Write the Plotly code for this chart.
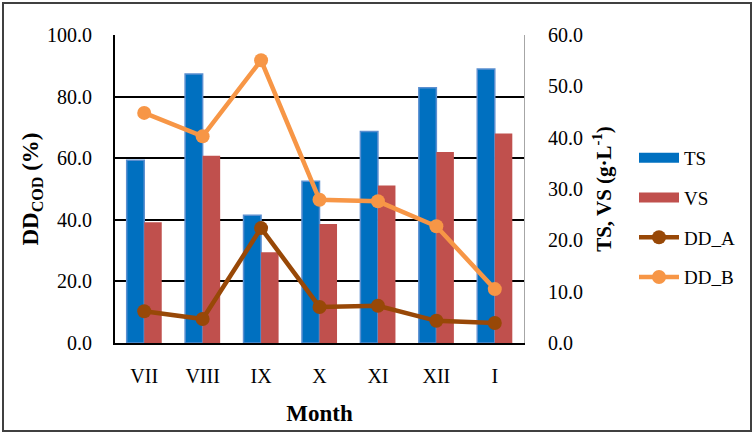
import plotly.graph_objects as go

months = ["VII", "VIII", "IX", "X", "XI", "XII", "I"]
ts = [35.6, 52.4, 24.9, 31.5, 41.2, 49.7, 53.4]
vs = [23.5, 36.5, 17.7, 23.2, 30.7, 37.2, 40.8]
dd_a = [10.3, 7.8, 37.3, 11.7, 12.1, 7.2, 6.5]
dd_b = [74.7, 67.1, 91.8, 46.5, 46.0, 37.9, 17.5]

left_ticks = [0, 20, 40, 60, 80, 100]
right_ticks = [0, 10, 20, 30, 40, 50, 60]

BLUE = "#0070C0"
BLUE_EDGE = "#5B8FD0"
RED = "#C0504D"
BROWN = "#984807"
ORANGE = "#F79646"
FONT = "Liberation Serif, DejaVu Serif, serif"

fig = go.Figure()
fig.add_trace(go.Bar(x=months, y=ts, name="TS", yaxis="y", showlegend=False,
                     marker=dict(color=BLUE, line=dict(color=BLUE_EDGE, width=1.5))))
fig.add_trace(go.Bar(x=months, y=vs, name="VS", yaxis="y", showlegend=False,
                     marker=dict(color=RED, line=dict(color=RED, width=0))))
# legend-only entries (wide rectangles like the reference)
fig.add_trace(go.Scatter(x=[None], y=[None], name="TS", mode="lines", yaxis="y",
                         legendgroup="g1", line=dict(color=BLUE, width=13)))
fig.add_trace(go.Scatter(x=[None], y=[None], name="VS", mode="lines", yaxis="y",
                         legendgroup="g2", line=dict(color=RED, width=13)))
fig.add_trace(go.Scatter(x=months, y=dd_a, name="DD_A", mode="lines+markers", yaxis="y2",
                         legendgroup="g3",
                         line=dict(color=BROWN, width=4.5), marker=dict(size=14, color=BROWN)))
fig.add_trace(go.Scatter(x=months, y=dd_b, name="DD_B", mode="lines+markers", yaxis="y2",
                         legendgroup="g4",
                         line=dict(color=ORANGE, width=4.5), marker=dict(size=14, color=ORANGE)))

L, R, T, B = 115, 232, 35, 92
pw = 756 - L - R
ph = 435 - T - B

def px_x(p):
    return (p - L) / pw

def px_y(p):
    return (435 - B - p) / ph

fig.update_layout(
    width=756, height=435,
    margin=dict(l=L, r=R, t=T, b=B, pad=0),
    paper_bgcolor="white", plot_bgcolor="white",
    font=dict(family=FONT, size=20, color="black"),
    barmode="group", bargap=0.4, bargroupgap=0,
    showlegend=True,
    legend=dict(x=px_x(634), y=px_y(139), xanchor="left", yanchor="top",
                font=dict(size=19, family=FONT), tracegroupgap=12,
                itemwidth=40, bgcolor="rgba(0,0,0,0)"),
    xaxis=dict(showline=True, linecolor="black", linewidth=2, mirror=False,
               ticks="outside", ticklen=14, tickcolor="rgba(0,0,0,0)",
               tickfont=dict(size=20, family=FONT),
               title=dict(text="<b>Month</b>", font=dict(size=23, family=FONT), standoff=19)),
    yaxis=dict(side="right", range=[0, 60], tickvals=right_ticks,
               ticktext=[f"{v:.1f}" for v in right_ticks],
               showgrid=False, zeroline=False, showline=True, linecolor="#A6A6A6", linewidth=1,
               ticks="outside", ticklen=19, tickcolor="rgba(0,0,0,0)",
               tickfont=dict(size=20, family=FONT),
               title=dict(text="<b>TS, VS (g·L<sup>-1</sup>)</b>", font=dict(size=21, family=FONT), standoff=14)),
    yaxis2=dict(side="left", overlaying="y", range=[0, 100], tickvals=left_ticks,
                ticktext=[f"{v:.1f}" for v in left_ticks],
                showgrid=True, gridcolor="black", gridwidth=1.8, zeroline=False,
                showline=True, linecolor="black", linewidth=2,
                ticks="outside", ticklen=17, tickcolor="rgba(0,0,0,0)",
                tickfont=dict(size=20, family=FONT),
                title=dict(text="<b>DD<sub>COD</sub> (%)</b>", font=dict(size=23, family=FONT), standoff=2)),
    shapes=[dict(type="rect", xref="paper", yref="paper",
                 x0=px_x(3), x1=px_x(751), y0=px_y(431), y1=px_y(3),
                 line=dict(color="#404040", width=2), fillcolor="rgba(0,0,0,0)", layer="below")],
)

fig.write_html("out.html", config={"displayModeBar": False},
               post_script="document.body.style.margin='0';document.body.style.padding='0';")
